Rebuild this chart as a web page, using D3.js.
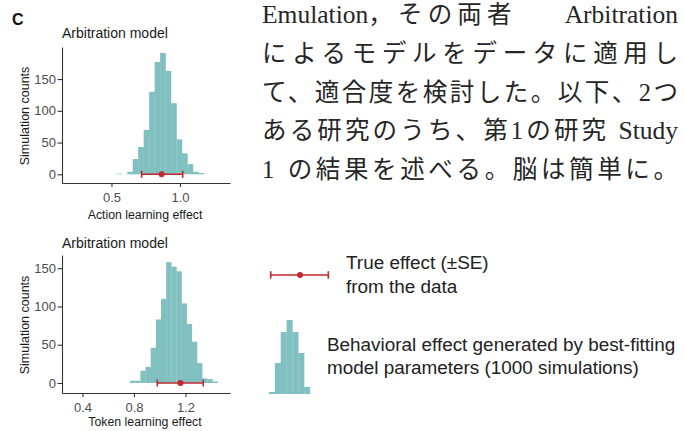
<!DOCTYPE html>
<html>
<head>
<meta charset="utf-8">
<script src="https://cdn.jsdelivr.net/npm/d3@7"></script>
<style>
  html, body { margin: 0; padding: 0; background: #fff; }
  svg { display: block; }
</style>
</head>
<body>
<svg id="fig" width="684" height="431"></svg>
<script>
// histogram bins (bin width 0.04)
const actionBinStarts = [0.535, 0.575, 0.615, 0.655, 0.695, 0.735, 0.775, 0.815, 0.855, 0.895, 0.935, 0.975, 1.015, 1.055, 1.095, 1.135];
const actionCounts = [1, 0, 4, 24, 43, 70, 130, 177, 191, 163, 112, 55, 33, 16, 4, 2];
const tokenBinStarts = [0.77, 0.81, 0.85, 0.89, 0.93, 0.97, 1.01, 1.05, 1.09, 1.13, 1.17, 1.21, 1.25, 1.29, 1.33, 1.37, 1.41];
const tokenCounts = [3, 3, 16, 21, 46, 83, 110, 158, 152, 146, 104, 77, 54, 26, 6, 5, 2];
const binWidth = 0.04;

// true effect and its SE range, [action, token]
const trueEffect = [0.866, 1.161];
const trueLow = [0.72, 0.981];
const trueHigh = [1.02, 1.338];

const actionTicks = [0.5, 1.0];
const tokenTicks = [0.4, 0.8, 1.2];
const countTicks = [0, 50, 100, 150];

// little histogram glyph in the legend
const legendCounts = [2, 31, 62, 74, 62, 41, 7];
const legendLines = [
  "True effect (±SE)",
  "from the data",
  "Behavioral effect generated by best-fitting",
  "model parameters (1000 simulations)",
];

const bodyLines = [
  "Emulation，その両者 Arbitration",
  "によるモデルをデータに適用し",
  "て、適合度を検討した。以下、2つ",
  "ある研究のうち、第1の研究 Study",
  "1 の結果を述べる。脳は簡単に。",
];

const TEAL = "#80c0c0";
const RED = "#c2282e";
const AXIS = "#333";
const SANS = "'Liberation Sans', Arial, sans-serif";

const panels = [
  {
    starts: actionBinStarts, counts: actionCounts, ticks: actionTicks, k: 0,
    xLabel: "Action learning effect",
    xDomain: [0.139, 1.365], yDomain: [-13.7, 200.5],
    left: 62, right: 230, top: 47, bottom: 183, titleY: 37.5, xLabelY: 218.5,
  },
  {
    starts: tokenBinStarts, counts: tokenCounts, ticks: tokenTicks, k: 1,
    xLabel: "Token learning effect",
    xDomain: [0.241, 1.546], yDomain: [-13.1, 167.3],
    left: 62, right: 230, top: 255, bottom: 393, titleY: 248, xLabelY: 425.8,
  },
];

function drawPanel(svg, p) {
  const x = d3.scaleLinear().domain(p.xDomain).range([p.left, p.right]);
  const y = d3.scaleLinear().domain(p.yDomain).range([p.bottom, p.top]);
  const bins = p.starts.map((s, i) => ({ x0: s, x1: s + binWidth, n: p.counts[i] }));

  const g = svg.append("g");

  g.append("g")
    .selectAll("rect")
    .data(bins)
    .enter()
    .append("rect")
    .attr("x", (d) => x(d.x0))
    .attr("width", (d) => x(d.x1) - x(d.x0) + 0.2)
    .attr("y", (d) => y(d.n))
    .attr("height", (d) => y(0) - y(d.n))
    .attr("fill", TEAL);

  // error bar
  const ey = y(0);
  const eb = g.append("g").attr("stroke", RED).attr("stroke-width", 1.6);
  eb.append("line").attr("x1", x(trueLow[p.k])).attr("x2", x(trueHigh[p.k])).attr("y1", ey).attr("y2", ey);
  [trueLow[p.k], trueHigh[p.k]].forEach((v) => {
    eb.append("line").attr("x1", x(v)).attr("x2", x(v)).attr("y1", ey - 3.5).attr("y2", ey + 3.5);
  });
  g.append("circle").attr("cx", x(trueEffect[p.k])).attr("cy", ey).attr("r", 3).attr("fill", RED);

  const xa = g.append("g")
    .attr("transform", `translate(0,${p.bottom})`)
    .call(d3.axisBottom(x).tickValues(p.ticks).tickFormat(d3.format(".1f")).tickSize(4).tickPadding(5.5).tickSizeOuter(0));
  const ya = g.append("g")
    .attr("transform", `translate(${p.left},0)`)
    .call(d3.axisLeft(y).tickValues(countTicks).tickSize(4.5).tickPadding(1.5).tickSizeOuter(0));

  [xa, ya].forEach((a) => {
    a.attr("font-family", SANS).attr("font-size", 13);
    a.selectAll(".domain,.tick line").attr("stroke", AXIS).attr("stroke-width", 1.1);
    a.selectAll("text").attr("fill", "#4d4d4d");
  });

  g.append("text")
    .attr("x", p.left)
    .attr("y", p.titleY)
    .attr("font-family", SANS)
    .attr("font-size", 14)
    .attr("fill", "#1a1a1a")
    .text("Arbitration model");

  g.append("text")
    .attr("x", (p.left + p.right) / 2 - 1)
    .attr("y", p.xLabelY)
    .attr("text-anchor", "middle")
    .attr("font-family", SANS)
    .attr("font-size", 12.3)
    .attr("fill", "#1a1a1a")
    .text(p.xLabel);

  g.append("text")
    .attr("transform", `translate(28.5,${(p.top + p.bottom) / 2 + 1}) rotate(-90)`)
    .attr("text-anchor", "middle")
    .attr("font-family", SANS)
    .attr("font-size", 12.5)
    .attr("fill", "#1a1a1a")
    .text("Simulation counts");
}

function drawLegend(svg) {
  const g = svg.append("g");
  const ey = 275;
  const eb = g.append("g").attr("stroke", RED).attr("stroke-width", 1.6);
  eb.append("line").attr("x1", 270.7).attr("x2", 328.3).attr("y1", ey).attr("y2", ey);
  [270.7, 328.3].forEach((v) => {
    eb.append("line").attr("x1", v).attr("x2", v).attr("y1", ey - 3.8).attr("y2", ey + 3.8);
  });
  g.append("circle").attr("cx", 300).attr("cy", ey).attr("r", 3).attr("fill", RED);

  const lx = d3.scaleBand().domain(d3.range(legendCounts.length)).range([269, 310]);
  const ly = d3.scaleLinear().domain([0, 74]).range([394, 320]);
  g.selectAll("rect")
    .data(legendCounts)
    .enter()
    .append("rect")
    .attr("x", (d, i) => lx(i))
    .attr("width", lx.bandwidth() + 0.2)
    .attr("y", (d) => ly(d))
    .attr("height", (d) => ly(0) - ly(d))
    .attr("fill", TEAL);

  const pos = [[346, 269], [346, 293], [327, 351], [327, 374]];
  g.selectAll("text")
    .data(legendLines)
    .enter()
    .append("text")
    .attr("x", (d, i) => pos[i][0])
    .attr("y", (d, i) => pos[i][1])
    .attr("font-family", SANS)
    .attr("font-size", 18.9)
    .attr("fill", "#222")
    .text((d) => d);
}

// justified lines: latin words keep natural spacing, kana/kanji runs get tracked,
// and where a line has a word space the spare room goes into that space
function drawBody(svg) {
  const x0 = 262;
  const width = 416;
  const baseTrack = 5.2;
  const g = svg.append("g")
    .attr("font-family", "'Liberation Serif', 'Noto Sans CJK JP', serif")
    .attr("font-size", 24.5)
    .attr("fill", "#262626");

  const isLatin = (r) => /^[A-Za-z]+$/.test(r);
  const isSpace = (r) => /^ +$/.test(r);

  bodyLines.forEach((line, i) => {
    const y = 23 + i * 38.8;

    // first try: fixed tracking, slack into the spaces
    if (line.includes(" ")) {
      const runs = line.match(/[A-Za-z]+| +|[^A-Za-z ]+/g);
      const t = g.append("text").attr("x", x0).attr("y", y);
      const spans = [];
      let pendingSpace = false;
      runs.forEach((r) => {
        if (isSpace(r)) { pendingSpace = true; return; }
        const s = t.append("tspan").text(r);
        if (isLatin(r)) s.attr("font-size", 25.5);
        else s.attr("letter-spacing", baseTrack);
        spans.push({ s, afterSpace: pendingSpace });
        pendingSpace = false;
      });
      const slack = width - t.node().getComputedTextLength();
      const nSpaces = spans.filter((d) => d.afterSpace).length;
      if (slack > 0) {
        spans.forEach((d) => { if (d.afterSpace) d.s.attr("dx", slack / nSpaces); });
        return;
      }
      t.remove();
    }

    // otherwise: spread the slack over the kana/kanji runs
    const runs = line.match(/[A-Za-z]+|[^A-Za-z]+/g);
    const t = g.append("text").attr("x", x0).attr("y", y);
    const spans = runs.map((r) => {
      const s = t.append("tspan").text(r);
      if (isLatin(r)) s.attr("font-size", 25.5);
      return s;
    });
    const natural = t.node().getComputedTextLength();
    let gaps = 0;
    runs.forEach((r) => { if (!isLatin(r)) gaps += r.length; });
    if (!isLatin(runs[runs.length - 1])) gaps -= 1;
    const ls = gaps > 0 ? (width - natural) / gaps : 0;
    spans.forEach((s, j) => {
      if (!isLatin(runs[j])) s.attr("letter-spacing", ls);
    });
  });
}

const svg = d3.select("#fig");

svg.append("text")
  .attr("x", 12)
  .attr("y", 25)
  .attr("font-family", SANS)
  .attr("font-weight", "bold")
  .attr("font-size", 16)
  .attr("fill", "#111")
  .text("C");

panels.forEach((p) => drawPanel(svg, p));
drawLegend(svg);
drawBody(svg);
</script>
</body>
</html>
